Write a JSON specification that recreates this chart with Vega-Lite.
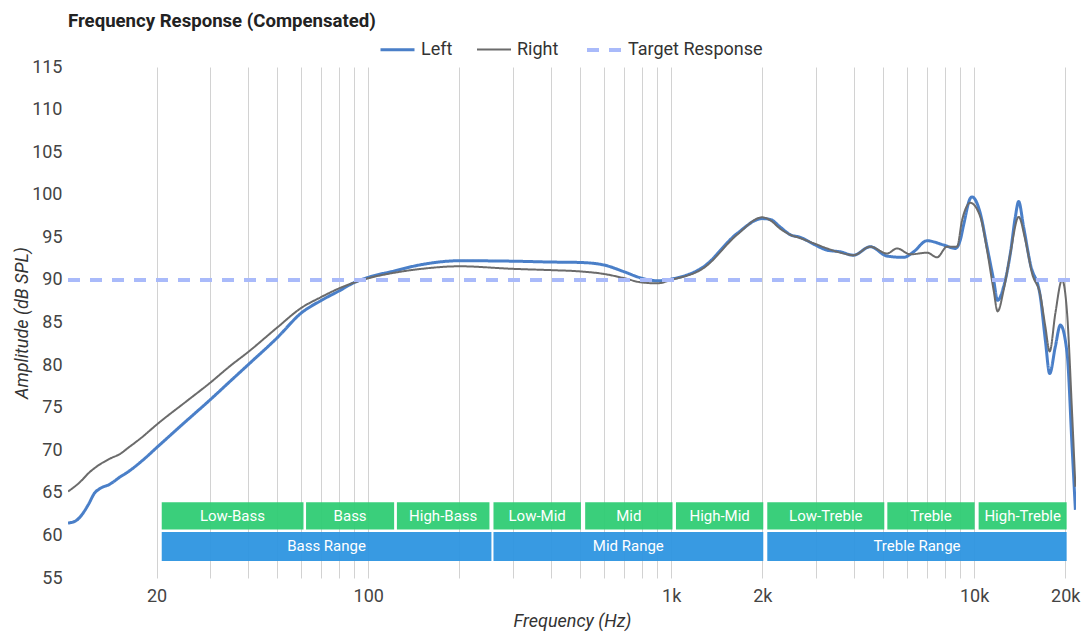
{
  "$schema": "https://vega.github.io/schema/vega-lite/v6.json",
  "width": 1008,
  "height": 511,
  "autosize": {"type": "none"},
  "padding": {"left": 68, "top": 67, "right": 5, "bottom": 55},
  "background": "white",
  "title": {"text": "Frequency Response (Compensated)", "anchor": "start", "frame": "group", "offset": 0, "fontSize": 18.6, "fontWeight": "bold", "font": "Roboto", "color": "#222222"},
  "config": {
    "font": "Roboto",
    "view": {"stroke": null},
    "axis": {"labelFont": "Roboto", "titleFont": "Roboto", "labelFontSize": 18, "labelColor": "#444444", "titleFontSize": 18, "titleColor": "#333333", "titleFontStyle": "italic", "titleFontWeight": "normal", "gridColor": "#d2d2d2", "gridWidth": 1, "ticks": false, "domain": false},
    "legend": {"labelFont": "Roboto", "labelFontSize": 18, "labelColor": "#333333"}
  },
  "datasets": {
    "curves": [
      {"f": 10.2, "db": 61.45, "series": "Left"},
      {"f": 10.8, "db": 61.7, "series": "Left"},
      {"f": 11.2, "db": 62.2, "series": "Left"},
      {"f": 11.9, "db": 63.6, "series": "Left"},
      {"f": 12.5, "db": 65.0, "series": "Left"},
      {"f": 13.0, "db": 65.5, "series": "Left"},
      {"f": 14.0, "db": 66.0, "series": "Left"},
      {"f": 15.2, "db": 66.9, "series": "Left"},
      {"f": 16.0, "db": 67.4, "series": "Left"},
      {"f": 18.1, "db": 68.9, "series": "Left"},
      {"f": 20, "db": 70.3, "series": "Left"},
      {"f": 25, "db": 73.4, "series": "Left"},
      {"f": 30, "db": 75.9, "series": "Left"},
      {"f": 35, "db": 78.1, "series": "Left"},
      {"f": 40, "db": 80.0, "series": "Left"},
      {"f": 50, "db": 83.2, "series": "Left"},
      {"f": 60, "db": 86.1, "series": "Left"},
      {"f": 70, "db": 87.6, "series": "Left"},
      {"f": 80, "db": 88.7, "series": "Left"},
      {"f": 90, "db": 89.7, "series": "Left"},
      {"f": 100, "db": 90.3, "series": "Left"},
      {"f": 120, "db": 91.0, "series": "Left"},
      {"f": 150, "db": 91.8, "series": "Left"},
      {"f": 200, "db": 92.25, "series": "Left"},
      {"f": 300, "db": 92.2, "series": "Left"},
      {"f": 400, "db": 92.1, "series": "Left"},
      {"f": 500, "db": 92.05, "series": "Left"},
      {"f": 600, "db": 91.75, "series": "Left"},
      {"f": 700, "db": 90.95, "series": "Left"},
      {"f": 800, "db": 90.2, "series": "Left"},
      {"f": 900, "db": 89.9, "series": "Left"},
      {"f": 1000, "db": 90.1, "series": "Left"},
      {"f": 1280, "db": 91.55, "series": "Left"},
      {"f": 1650, "db": 95.45, "series": "Left"},
      {"f": 2000, "db": 97.2, "series": "Left"},
      {"f": 2124, "db": 97.1, "series": "Left"},
      {"f": 2292, "db": 96.2, "series": "Left"},
      {"f": 2474, "db": 95.3, "series": "Left"},
      {"f": 2669, "db": 95.0, "series": "Left"},
      {"f": 2952, "db": 94.2, "series": "Left"},
      {"f": 3268, "db": 93.5, "series": "Left"},
      {"f": 3616, "db": 93.3, "series": "Left"},
      {"f": 4001, "db": 92.9, "series": "Left"},
      {"f": 4543, "db": 93.9, "series": "Left"},
      {"f": 5159, "db": 92.8, "series": "Left"},
      {"f": 5853, "db": 92.65, "series": "Left"},
      {"f": 6315, "db": 93.3, "series": "Left"},
      {"f": 6993, "db": 94.6, "series": "Left"},
      {"f": 7934, "db": 94.1, "series": "Left"},
      {"f": 8670, "db": 93.7, "series": "Left"},
      {"f": 9008, "db": 94.7, "series": "Left"},
      {"f": 9240, "db": 96.5, "series": "Left"},
      {"f": 9719, "db": 99.6, "series": "Left"},
      {"f": 9845, "db": 99.75, "series": "Left"},
      {"f": 10486, "db": 97.8, "series": "Left"},
      {"f": 11033, "db": 93.9, "series": "Left"},
      {"f": 11600, "db": 90.0, "series": "Left"},
      {"f": 11960, "db": 87.6, "series": "Left"},
      {"f": 12518, "db": 89.2, "series": "Left"},
      {"f": 13172, "db": 93.1, "series": "Left"},
      {"f": 13683, "db": 97.4, "series": "Left"},
      {"f": 14030, "db": 99.2, "series": "Left"},
      {"f": 14572, "db": 96.2, "series": "Left"},
      {"f": 15333, "db": 91.9, "series": "Left"},
      {"f": 16549, "db": 88.0, "series": "Left"},
      {"f": 17193, "db": 82.9, "series": "Left"},
      {"f": 17765, "db": 79.0, "series": "Left"},
      {"f": 18551, "db": 82.2, "series": "Left"},
      {"f": 19270, "db": 84.7, "series": "Left"},
      {"f": 20277, "db": 81.4, "series": "Left"},
      {"f": 21064, "db": 70.4, "series": "Left"},
      {"f": 21600, "db": 63.0, "series": "Left"},
      {"f": 10.2, "db": 65.15, "series": "Right"},
      {"f": 11.2, "db": 66.3, "series": "Right"},
      {"f": 12.0, "db": 67.4, "series": "Right"},
      {"f": 12.7, "db": 68.1, "series": "Right"},
      {"f": 14.0, "db": 69.0, "series": "Right"},
      {"f": 15.2, "db": 69.6, "series": "Right"},
      {"f": 16.0, "db": 70.2, "series": "Right"},
      {"f": 18.0, "db": 71.6, "series": "Right"},
      {"f": 20, "db": 73.0, "series": "Right"},
      {"f": 25, "db": 75.7, "series": "Right"},
      {"f": 30, "db": 77.9, "series": "Right"},
      {"f": 35, "db": 79.9, "series": "Right"},
      {"f": 40, "db": 81.5, "series": "Right"},
      {"f": 50, "db": 84.4, "series": "Right"},
      {"f": 60, "db": 86.7, "series": "Right"},
      {"f": 70, "db": 88.0, "series": "Right"},
      {"f": 80, "db": 89.0, "series": "Right"},
      {"f": 90, "db": 89.7, "series": "Right"},
      {"f": 100, "db": 90.2, "series": "Right"},
      {"f": 120, "db": 90.8, "series": "Right"},
      {"f": 150, "db": 91.3, "series": "Right"},
      {"f": 200, "db": 91.6, "series": "Right"},
      {"f": 300, "db": 91.3, "series": "Right"},
      {"f": 400, "db": 91.15, "series": "Right"},
      {"f": 500, "db": 91.0, "series": "Right"},
      {"f": 600, "db": 90.7, "series": "Right"},
      {"f": 700, "db": 90.2, "series": "Right"},
      {"f": 800, "db": 89.7, "series": "Right"},
      {"f": 900, "db": 89.6, "series": "Right"},
      {"f": 1000, "db": 90.0, "series": "Right"},
      {"f": 1280, "db": 91.4, "series": "Right"},
      {"f": 1650, "db": 95.3, "series": "Right"},
      {"f": 2000, "db": 97.35, "series": "Right"},
      {"f": 2124, "db": 97.0, "series": "Right"},
      {"f": 2292, "db": 96.0, "series": "Right"},
      {"f": 2474, "db": 95.3, "series": "Right"},
      {"f": 2669, "db": 94.9, "series": "Right"},
      {"f": 2952, "db": 94.3, "series": "Right"},
      {"f": 3268, "db": 93.7, "series": "Right"},
      {"f": 3616, "db": 93.2, "series": "Right"},
      {"f": 4001, "db": 92.9, "series": "Right"},
      {"f": 4543, "db": 93.9, "series": "Right"},
      {"f": 5159, "db": 93.1, "series": "Right"},
      {"f": 5566, "db": 93.7, "series": "Right"},
      {"f": 6158, "db": 93.0, "series": "Right"},
      {"f": 6993, "db": 93.2, "series": "Right"},
      {"f": 7546, "db": 92.65, "series": "Right"},
      {"f": 8141, "db": 93.9, "series": "Right"},
      {"f": 8785, "db": 93.9, "series": "Right"},
      {"f": 9125, "db": 97.0, "series": "Right"},
      {"f": 9719, "db": 99.05, "series": "Right"},
      {"f": 10486, "db": 97.4, "series": "Right"},
      {"f": 11033, "db": 93.5, "series": "Right"},
      {"f": 11600, "db": 88.8, "series": "Right"},
      {"f": 11960, "db": 86.3, "series": "Right"},
      {"f": 12518, "db": 88.8, "series": "Right"},
      {"f": 13172, "db": 93.1, "series": "Right"},
      {"f": 14030, "db": 97.4, "series": "Right"},
      {"f": 14761, "db": 94.7, "series": "Right"},
      {"f": 15532, "db": 90.8, "series": "Right"},
      {"f": 16549, "db": 88.2, "series": "Right"},
      {"f": 17193, "db": 84.5, "series": "Right"},
      {"f": 17765, "db": 81.6, "series": "Right"},
      {"f": 18551, "db": 86.1, "series": "Right"},
      {"f": 19520, "db": 90.0, "series": "Right"},
      {"f": 20277, "db": 86.1, "series": "Right"},
      {"f": 21064, "db": 74.35, "series": "Right"},
      {"f": 21600, "db": 65.7, "series": "Right"},
      {"f": 10.2, "db": 90, "series": "Target Response"},
      {"f": 21700, "db": 90, "series": "Target Response"}
    ],
    "bands": [
      {"label": "Low-Bass", "level": "sub", "start": 20.8, "end": 61.1, "mid": 35.6},
      {"label": "Bass", "level": "sub", "start": 62.3, "end": 121.7, "mid": 87.1},
      {"label": "High-Bass", "level": "sub", "start": 124.3, "end": 251.2, "mid": 176.7},
      {"label": "Low-Mid", "level": "sub", "start": 259, "end": 503.4, "mid": 361},
      {"label": "Mid", "level": "sub", "start": 520, "end": 1010, "mid": 724.7},
      {"label": "High-Mid", "level": "sub", "start": 1037, "end": 2014, "mid": 1445},
      {"label": "Low-Treble", "level": "sub", "start": 2076, "end": 5053, "mid": 3239},
      {"label": "Treble", "level": "sub", "start": 5171, "end": 10042, "mid": 7206},
      {"label": "High-Treble", "level": "sub", "start": 10353, "end": 20212, "mid": 14466},
      {"label": "Bass Range", "level": "range", "start": 20.8, "end": 255, "mid": 72.8},
      {"label": "Mid Range", "level": "range", "start": 259, "end": 2014, "mid": 722},
      {"label": "Treble Range", "level": "range", "start": 2076, "end": 20212, "mid": 6478}
    ]
  },
  "layer": [
    {
      "data": {"name": "bands"},
      "transform": [{"filter": "datum.level === 'sub'"}],
      "mark": {"type": "rect", "color": "#2fcc74", "opacity": 0.95},
      "encoding": {
        "x": {"field": "start", "type": "quantitative", "scale": {"type": "log", "domain": [10.2, 21700], "nice": false}, "axis": {"values": [20, 30, 40, 50, 60, 70, 80, 90, 100, 200, 300, 400, 500, 600, 700, 800, 900, 1000, 2000, 3000, 4000, 5000, 6000, 7000, 8000, 9000, 10000, 20000], "labelExpr": "indexof([20,100,1000,2000,10000,20000], datum.value) >= 0 ? (datum.value >= 1000 ? (datum.value/1000) + 'k' : '' + datum.value) : ''", "labelOverlap": false, "labelBound": false, "labelFlush": false, "labelPadding": 9, "title": "Frequency (Hz)", "titlePadding": 7}},
        "x2": {"field": "end"},
        "y": {"datum": 63.9, "type": "quantitative", "scale": {"domain": [55, 115], "nice": false, "zero": false}, "axis": {"values": [55, 60, 65, 70, 75, 80, 85, 90, 95, 100, 105, 110, 115], "labelPadding": 6, "title": "Amplitude (dB SPL)", "titlePadding": 0}},
        "y2": {"datum": 60.7}
      }
    },
    {
      "data": {"name": "bands"},
      "transform": [{"filter": "datum.level === 'range'"}],
      "mark": {"type": "rect", "color": "#2d95e0", "opacity": 0.95},
      "encoding": {
        "x": {"field": "start", "type": "quantitative"},
        "x2": {"field": "end"},
        "y": {"datum": 60.4, "type": "quantitative"},
        "y2": {"datum": 57.0}
      }
    },
    {
      "data": {"name": "bands"},
      "transform": [{"filter": "datum.level === 'sub'"}],
      "mark": {"type": "text", "color": "white", "fontSize": 15, "baseline": "middle", "align": "center"},
      "encoding": {
        "x": {"field": "mid", "type": "quantitative"},
        "y": {"datum": 62.3, "type": "quantitative"},
        "text": {"field": "label"}
      }
    },
    {
      "data": {"name": "bands"},
      "transform": [{"filter": "datum.level === 'range'"}],
      "mark": {"type": "text", "color": "white", "fontSize": 15, "baseline": "middle", "align": "center"},
      "encoding": {
        "x": {"field": "mid", "type": "quantitative"},
        "y": {"datum": 58.7, "type": "quantitative"},
        "text": {"field": "label"}
      }
    },
    {
      "data": {"name": "curves"},
      "mark": {"type": "line", "interpolate": "monotone", "clip": true},
      "encoding": {
        "x": {"field": "f", "type": "quantitative"},
        "y": {"field": "db", "type": "quantitative"},
        "color": {"field": "series", "type": "nominal", "scale": {"domain": ["Left", "Right", "Target Response"], "range": ["#4a7fc8", "#6b6b6b", "#a9bafa"]}, "legend": {"title": null, "orient": "none", "legendX": 311, "legendY": -36, "direction": "horizontal", "symbolType": "stroke", "symbolSize": 1156, "columnPadding": 20, "labelOffset": 5}},
        "strokeDash": {"field": "series", "type": "nominal", "scale": {"domain": ["Left", "Right", "Target Response"], "range": [[1, 0], [1, 0], [12, 10]]}, "legend": {"title": null, "orient": "none", "legendX": 311, "legendY": -36, "direction": "horizontal", "symbolType": "stroke", "symbolSize": 1156, "columnPadding": 20, "labelOffset": 5}},
        "strokeWidth": {"field": "series", "type": "nominal", "scale": {"type": "ordinal", "domain": ["Left", "Right", "Target Response"], "range": [3, 2, 4]}, "legend": {"title": null, "orient": "none", "legendX": 311, "legendY": -36, "direction": "horizontal", "symbolType": "stroke", "symbolSize": 1156, "columnPadding": 20, "labelOffset": 5}}
      }
    }
  ]
}
